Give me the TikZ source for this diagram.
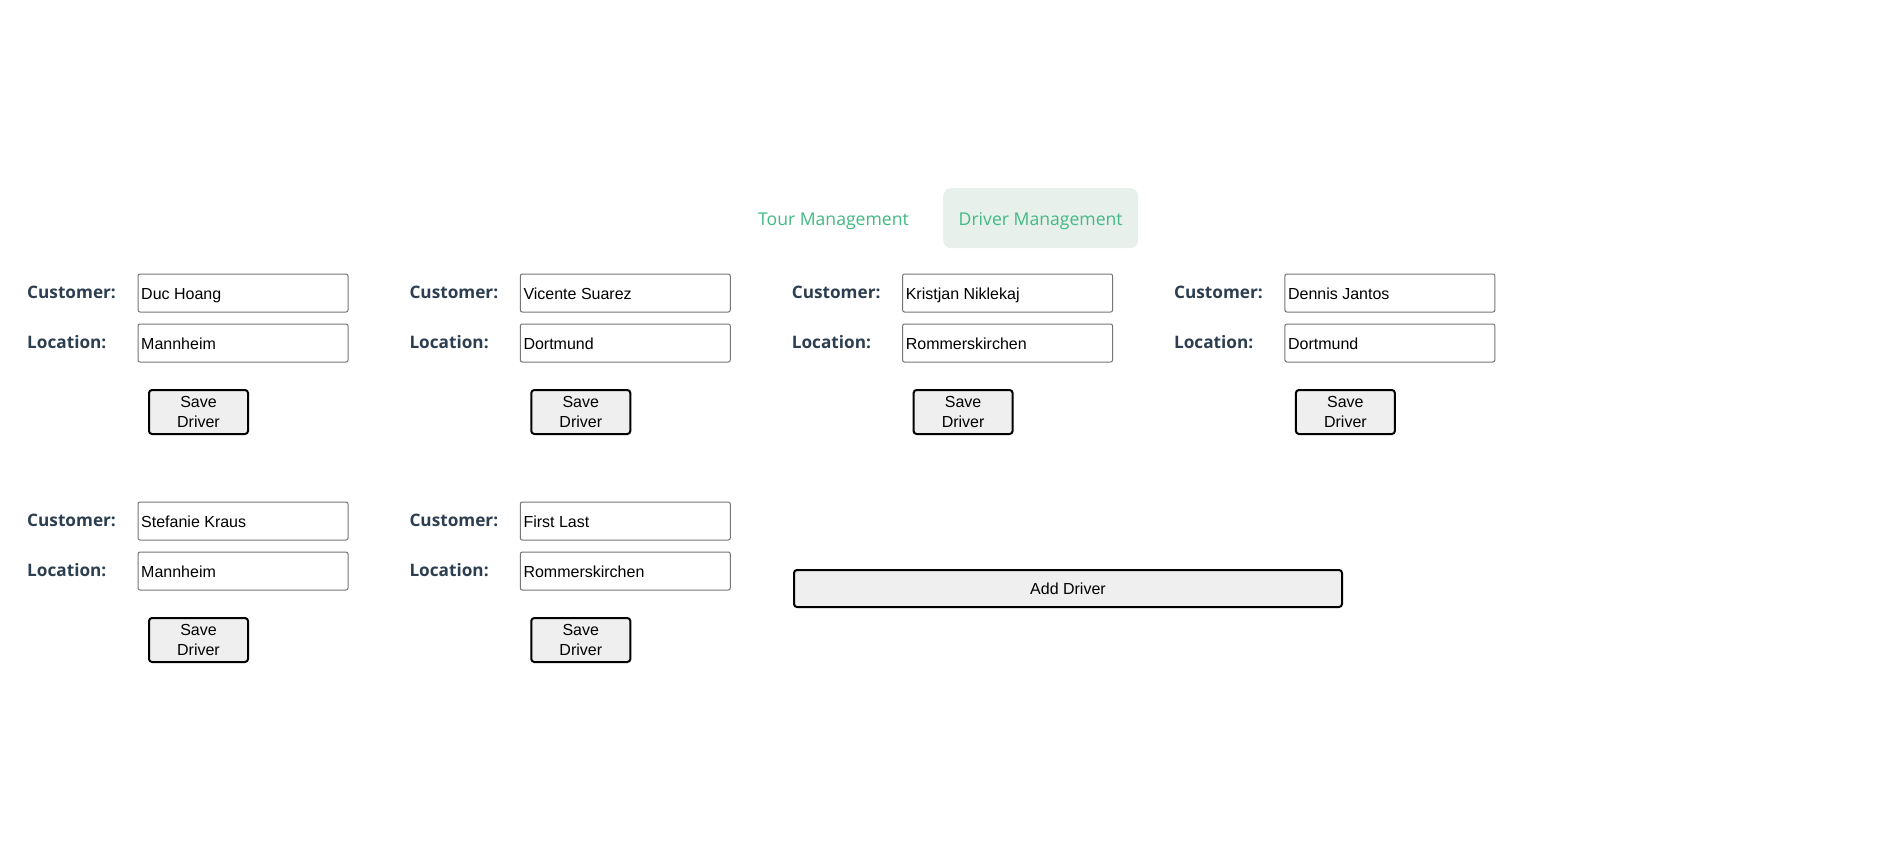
\documentclass[tikz,border=0pt]{standalone}
\usepackage{fontspec}
\setmainfont{Liberation Sans}
\newfontfamily\uifont{Open Sans}
\definecolor{labelc}{HTML}{2C3E50}
\definecolor{fieldc}{HTML}{767676}
\definecolor{btnc}{HTML}{EFEFEF}
\definecolor{greenc}{HTML}{42B983}
\definecolor{tabc}{HTML}{E8F0EC}
\tikzset{
  lbl/.style={anchor=base west, font=\uifont\bfseries\fontsize{17.2}{20}\selectfont, text=labelc, inner sep=0pt},
  field/.style={draw=fieldc, line width=1pt, rounded corners=2pt, minimum width=210pt, minimum height=38pt, anchor=north west, inner sep=0pt},
  fieldtext/.style={anchor=base west, font=\fontsize{16}{19}\selectfont, inner sep=0pt},
  savebtn/.style={draw=black, line width=2pt, fill=btnc, rounded corners=3pt, minimum width=99pt, minimum height=44pt, anchor=north west, align=center, font=\fontsize{16}{20}\selectfont, inner sep=0pt},
  tabtext/.style={anchor=base, font=\uifont\fontsize{17.6}{20}\selectfont, text=greenc, inner sep=0pt},
}
\begin{document}
\begin{tikzpicture}[x=1pt,y=-1pt]
\useasboundingbox (0,0) rectangle (1880,841);
\fill[white] (0,0) rectangle (1880,841);
% tabs
\node[tabtext] (tour) at (833.5,225) {Tour Management};
\node[fill=tabc, rounded corners=8pt, minimum width=195pt, minimum height=60pt, anchor=north west, inner sep=0pt] (drvtab) at (943,188) {};
\node[tabtext] (drv) at (drvtab.center |- tour.base) {Driver Management};
% driver forms
\foreach \i/\cx/\ry/\cname/\lname in {
  1/137/273/Duc Hoang/Mannheim,
  2/519.3/273/Vicente Suarez/Dortmund,
  3/901.6/273/Kristjan Niklekaj/Rommerskirchen,
  4/1283.9/273/Dennis Jantos/Dortmund,
  5/137/501/Stefanie Kraus/Mannheim,
  6/519.3/501/First Last/Rommerskirchen}{
  \node[lbl] (cl\i) at (\cx-110,\ry+25) {Customer:};
  \node[lbl] (ll\i) at (\cx-110,\ry+75) {Location:};
  \node[field] (cf\i) at (\cx+0.5,\ry+0.5) {};
  \node[field] (lf\i) at (\cx+0.5,\ry+50.5) {};
  \node[fieldtext] (ct\i) at (\cx+4,\ry+26) {\cname};
  \node[fieldtext] (lt\i) at (\cx+4,\ry+76) {\lname};
  \node[savebtn] (sb\i) at (\cx+11,\ry+116) {Save\\Driver};
}
% add driver
\node[draw=black, line width=2pt, fill=btnc, rounded corners=3pt, minimum width=548pt, minimum height=37pt, anchor=north west, font=\fontsize{16}{19}\selectfont, inner sep=0pt] (add) at (793,569) {Add Driver};
\end{tikzpicture}
\end{document}
